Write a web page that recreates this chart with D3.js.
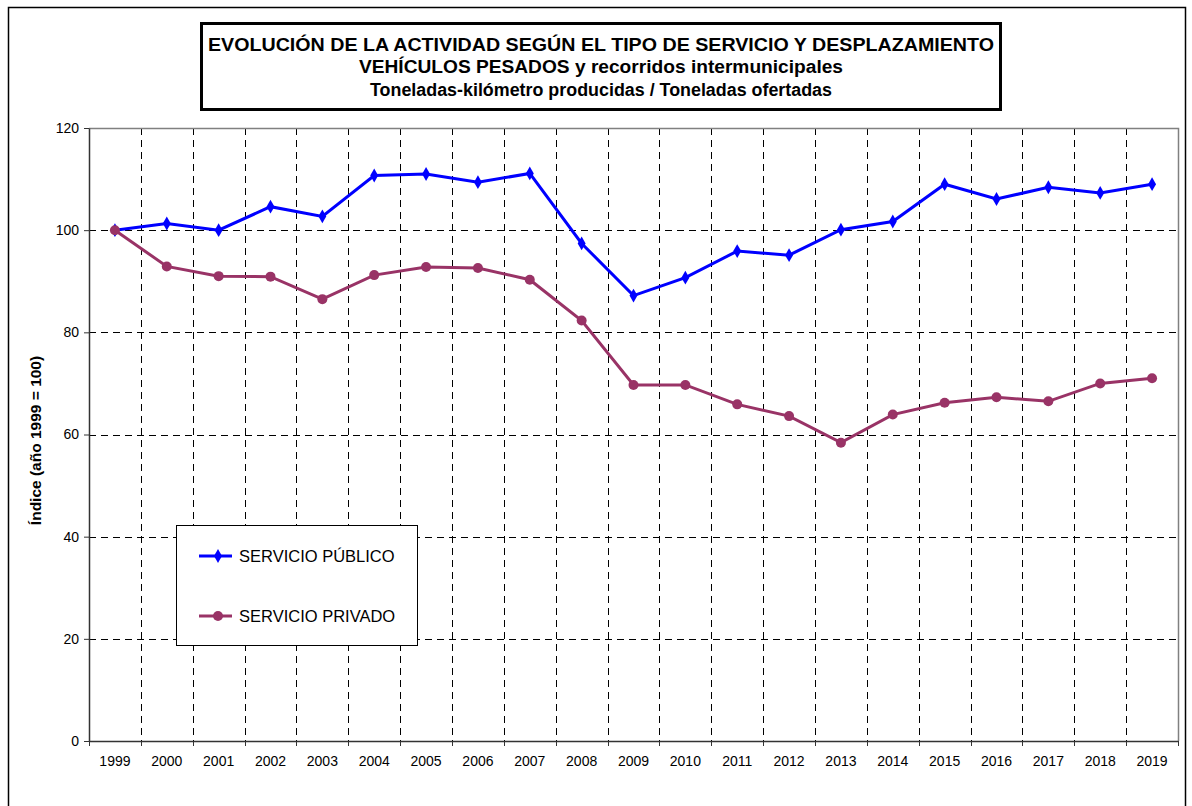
<!DOCTYPE html>
<html>
<head>
<meta charset="utf-8">
<script src="https://cdn.jsdelivr.net/npm/d3@7"></script>
<style>
  body { margin: 0; background: #fff; }
  svg { font-family: "Liberation Sans", Arial, sans-serif; }
  .title { font-family: "Liberation Sans Narrow", "Liberation Sans", Arial, sans-serif; font-weight: bold; font-size: 17.5px; }
</style>
</head>
<body>
<div id="chart"></div>
<script>
const years = ['1999','2000','2001','2002','2003','2004','2005','2006','2007','2008','2009',
               '2010','2011','2012','2013','2014','2015','2016','2017','2018','2019']
const publico = [100, 101.3, 100, 104.6, 102.7, 110.7, 111.0, 109.4, 111.1, 97.4, 87.2,
                 90.7, 95.9, 95.1, 100.1, 101.7, 109.0, 106.1, 108.4, 107.3, 109.0]
const privado = [100, 92.9, 91.0, 90.9, 86.5, 91.2, 92.8, 92.6, 90.3, 82.3, 69.7,
                 69.7, 65.9, 63.6, 58.4, 63.9, 66.2, 67.3, 66.5, 70.0, 71.0]
const yTicks = [0, 20, 40, 60, 80, 100, 120]
const titleLines = [
  'EVOLUCIÓN DE LA ACTIVIDAD SEGÚN EL TIPO DE SERVICIO Y DESPLAZAMIENTO',
  'VEHÍCULOS PESADOS y recorridos intermunicipales',
  'Toneladas-kilómetro producidas / Toneladas ofertadas'
]
const seriesNames = ['SERVICIO PÚBLICO', 'SERVICIO PRIVADO']

const dms = { width: 1192, height: 806, left: 89, right: 1178, top: 128, bottom: 741 }

const svg = d3.select('#chart').append('svg')
    .attr('width', dms.width)
    .attr('height', dms.height)

// outer frame
svg.append('rect')
    .attr('x', 8.5).attr('y', 7.5)
    .attr('width', 1177).attr('height', 820)
    .attr('fill', 'none').attr('stroke', '#000').attr('stroke-width', 1.5)

// title box
svg.append('rect')
    .attr('x', 201.5).attr('y', 23.5)
    .attr('width', 799).attr('height', 86)
    .attr('fill', '#fff').attr('stroke', '#000').attr('stroke-width', 3)

const titleW = [786, 484, 462]
svg.selectAll('text.title')
    .data(titleLines)
    .join('text')
    .attr('class', 'title')
    .attr('x', 601)
    .attr('y', (d, i) => 50.5 + i * 22.5)
    .attr('text-anchor', 'middle')
    .attr('textLength', (d, i) => titleW[i])
    .attr('lengthAdjust', 'spacingAndGlyphs')
    .text(d => d)

const x = d3.scaleBand()
    .domain(years)
    .range([dms.left, dms.right])

const y = d3.scaleLinear()
    .domain([0, 120])
    .range([dms.bottom, dms.top])

const plot = svg.append('g')

// horizontal dashed grid
plot.selectAll('line.hgrid')
    .data(yTicks.filter(d => d > 0 && d < 120))
    .join('line')
    .attr('class', 'hgrid')
    .attr('x1', dms.left).attr('x2', dms.right)
    .attr('y1', d => Math.round(y(d)) + 0.5).attr('y2', d => Math.round(y(d)) + 0.5)
    .attr('stroke', '#000').attr('stroke-dasharray', '7,5')

// vertical dashed grid at category boundaries
plot.selectAll('line.vgrid')
    .data(years.slice(1))
    .join('line')
    .attr('class', 'vgrid')
    .attr('x1', d => Math.round(x(d)) + 0.5).attr('x2', d => Math.round(x(d)) + 0.5)
    .attr('y1', dms.top).attr('y2', dms.bottom)
    .attr('stroke', '#000').attr('stroke-dasharray', '7,5')

// plot border top and right
plot.append('path')
    .attr('d', `M${dms.left},${dms.top + 0.5}H${dms.right + 0.5}V${dms.bottom}`)
    .attr('fill', 'none').attr('stroke', '#808080').attr('stroke-width', 1.5)

// y axis
const yAxis = svg.append('g')
    .attr('transform', `translate(${dms.left},0)`)
    .call(d3.axisLeft(y).tickValues(yTicks).tickSize(5).tickSizeOuter(0))
yAxis.select('.domain').attr('stroke', '#333').attr('stroke-width', 1.5)
yAxis.selectAll('.tick line').attr('stroke', '#333')
yAxis.selectAll('.tick text')
    .attr('x', -10)
    .style('font-size', '14px')
    .style('font-family', '"Liberation Sans", Arial, sans-serif')
    .attr('fill', '#000')

// x axis: labels at centres, ticks at boundaries
const xAxis = svg.append('g')
    .attr('transform', `translate(0,${dms.bottom})`)
    .call(d3.axisBottom(x).tickSize(0).tickSizeOuter(0))
xAxis.select('.domain').attr('stroke', '#333').attr('stroke-width', 1.5)
xAxis.selectAll('.tick text')
    .attr('y', 15)
    .style('font-size', '14px')
    .style('font-family', '"Liberation Sans", Arial, sans-serif')
    .attr('fill', '#000')
xAxis.selectAll('line.btick')
    .data(years.map(d => x(d)).concat([dms.right]))
    .join('line')
    .attr('class', 'btick')
    .attr('x1', d => Math.round(d) + 0.5).attr('x2', d => Math.round(d) + 0.5)
    .attr('y1', 0).attr('y2', 5)
    .attr('stroke', '#333')

// y axis title
svg.append('text')
    .attr('transform', `translate(41,${(dms.top + dms.bottom) / 2 + 6}) rotate(-90)`)
    .attr('text-anchor', 'middle')
    .style('font-size', '15.5px')
    .style('font-weight', 'bold')
    .text('Índice (año 1999 = 100)')

// series
const cx = d => x(d) + x.bandwidth() / 2
const line = d3.line()
    .x(d => cx(d.year))
    .y(d => y(d.v))

const pubData = years.map((yr, i) => ({ year: yr, v: publico[i] }))
const privData = years.map((yr, i) => ({ year: yr, v: privado[i] }))

const blue = '#0000ff'
const purple = '#993366'
const diamond = d3.symbol().type(d3.symbolDiamond).size(55)

svg.append('path')
    .datum(pubData)
    .attr('d', line)
    .attr('fill', 'none').attr('stroke', blue).attr('stroke-width', 3)
svg.selectAll('path.dpub')
    .data(pubData)
    .join('path')
    .attr('class', 'dpub')
    .attr('d', diamond)
    .attr('transform', d => `translate(${cx(d.year)},${y(d.v)})`)
    .attr('fill', blue)

svg.append('path')
    .datum(privData)
    .attr('d', line)
    .attr('fill', 'none').attr('stroke', purple).attr('stroke-width', 3)
svg.selectAll('circle.dpriv')
    .data(privData)
    .join('circle')
    .attr('class', 'dpriv')
    .attr('cx', d => cx(d.year))
    .attr('cy', d => y(d.v))
    .attr('r', 5)
    .attr('fill', purple)

// legend
const legend = svg.append('g')
legend.append('rect')
    .attr('x', 176.5).attr('y', 525.5)
    .attr('width', 241).attr('height', 120)
    .attr('fill', '#fff').attr('stroke', '#000')

const legendItems = [
  { name: seriesNames[0], color: blue, mark: 'diamond', y: 556 },
  { name: seriesNames[1], color: purple, mark: 'circle', y: 616 }
]
legendItems.forEach(it => {
  legend.append('line')
      .attr('x1', 199).attr('x2', 232)
      .attr('y1', it.y).attr('y2', it.y)
      .attr('stroke', it.color).attr('stroke-width', 3)
  if (it.mark === 'diamond') {
    legend.append('path')
        .attr('d', diamond)
        .attr('transform', `translate(218,${it.y})`)
        .attr('fill', it.color)
  } else {
    legend.append('circle')
        .attr('cx', 218).attr('cy', it.y).attr('r', 5)
        .attr('fill', it.color)
  }
  legend.append('text')
      .attr('x', 239).attr('y', it.y)
      .attr('dy', '0.36em')
      .style('font-size', '16.5px')
      .text(it.name)
})
</script>
</body>
</html>
